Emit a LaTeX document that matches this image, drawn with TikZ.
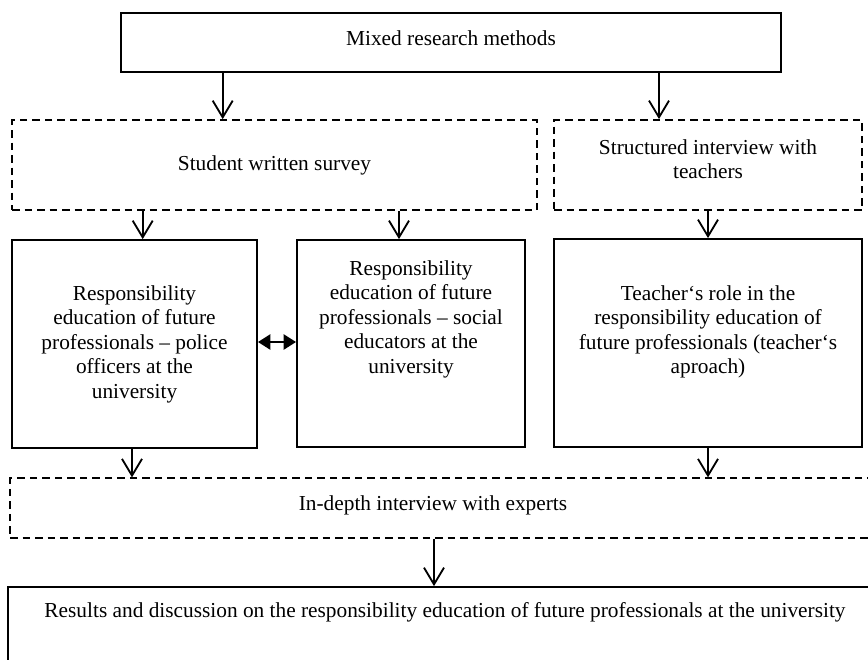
\documentclass[tikz,border=0pt]{standalone}
\usepackage{fontspec}
\setmainfont{Liberation Serif}
\usetikzlibrary{arrows.meta}
\tikzset{
    % Box styles - sharp corners, black outline
    solidbox/.style={
        rectangle,
        draw=black,
        line width=1.1pt,
        inner sep=0pt,
        align=center,
        font=\fontsize{12.8}{14.7}\selectfont
    },
    dashbox/.style={
        solidbox,
        dash pattern=on 4.5pt off 3pt
    },
    boxtext/.style={
        align=center,
        inner sep=0pt,
        font=\fontsize{12.8}{14.7}\selectfont
    },
    % Arrow styles - straight lines only
    arrow/.style={
        -{Straight Barb[length=10pt,width=12pt]},
        line width=1.1pt,
        draw=black
    },
    botharrow/.style={
        {Triangle[length=7.5pt,width=9pt]}-{Triangle[length=7.5pt,width=9pt]},
        line width=1.6pt,
        draw=black
    }
}
\begin{document}
\begin{tikzpicture}[x=0.6pt, y=-0.6pt]
    \useasboundingbox (0,0) rectangle (868,659);

    \node[solidbox, minimum width=396pt, minimum height=35.4pt] (mixed) at (451,42.5) {};
    \node[boxtext] (mixedtext) at (451,38) {Mixed research methods};

    \node[dashbox, minimum width=315pt, minimum height=54pt] (survey) at (274.5,165) {Student written survey};

    \node[dashbox, minimum width=184.8pt, minimum height=54pt] (interview) at (708,165) {};
    \node[boxtext] (interviewtext) at (708,159) {Structured interview with\\teachers};

    \node[solidbox, minimum width=147pt, minimum height=124.8pt] (police) at (134.5,344)
        {Responsibility\\education of future\\professionals -- police\\officers at the\\university};

    \node[solidbox, minimum width=136.8pt, minimum height=124.2pt] (social) at (411,343.5) {};
    \node[boxtext] (socialtext) at (411,319)
        {Responsibility\\education of future\\professionals -- social\\educators at the\\university};

    \node[solidbox, minimum width=184.8pt, minimum height=124.8pt] (teacher) at (708,343) {};
    \node[boxtext] (teachertext) at (708,332)
        {Teacher‘s role in the\\responsibility education of\\future professionals (teacher‘s\\aproach)};

    \node[dashbox, minimum width=534pt, minimum height=35.7pt] (experts) at (455,508) {};
    \node[boxtext] (expertstext) at (433,505) {In-depth interview with experts};

    \node[solidbox, minimum width=535.2pt, minimum height=79.8pt] (results) at (454,653.5) {};
    \node[boxtext] (resultstext) at (445,612)
        {Results and discussion on the responsibility education of future professionals at the university};

    \draw[arrow] (222.7,0 |- mixed.south) -- (222.7,0 |- survey.north);
    \draw[arrow] (659,0 |- mixed.south) -- (659,0 |- interview.north);
    \draw[arrow] (142.7,0 |- survey.south) -- (142.7,0 |- police.north);
    \draw[arrow] (399,0 |- survey.south) -- (399,0 |- social.north);
    \draw[arrow] (interview.south) -- (teacher.north);
    \draw[botharrow] (police.east |- 0,342) -- (social.west |- 0,342);
    \draw[arrow] (132,0 |- police.south) -- (132,0 |- experts.north);
    \draw[arrow] (teacher.south) -- (708,0 |- experts.north);
    \draw[arrow] (434,0 |- experts.south) -- (434,0 |- results.north);
\end{tikzpicture}
\end{document}
